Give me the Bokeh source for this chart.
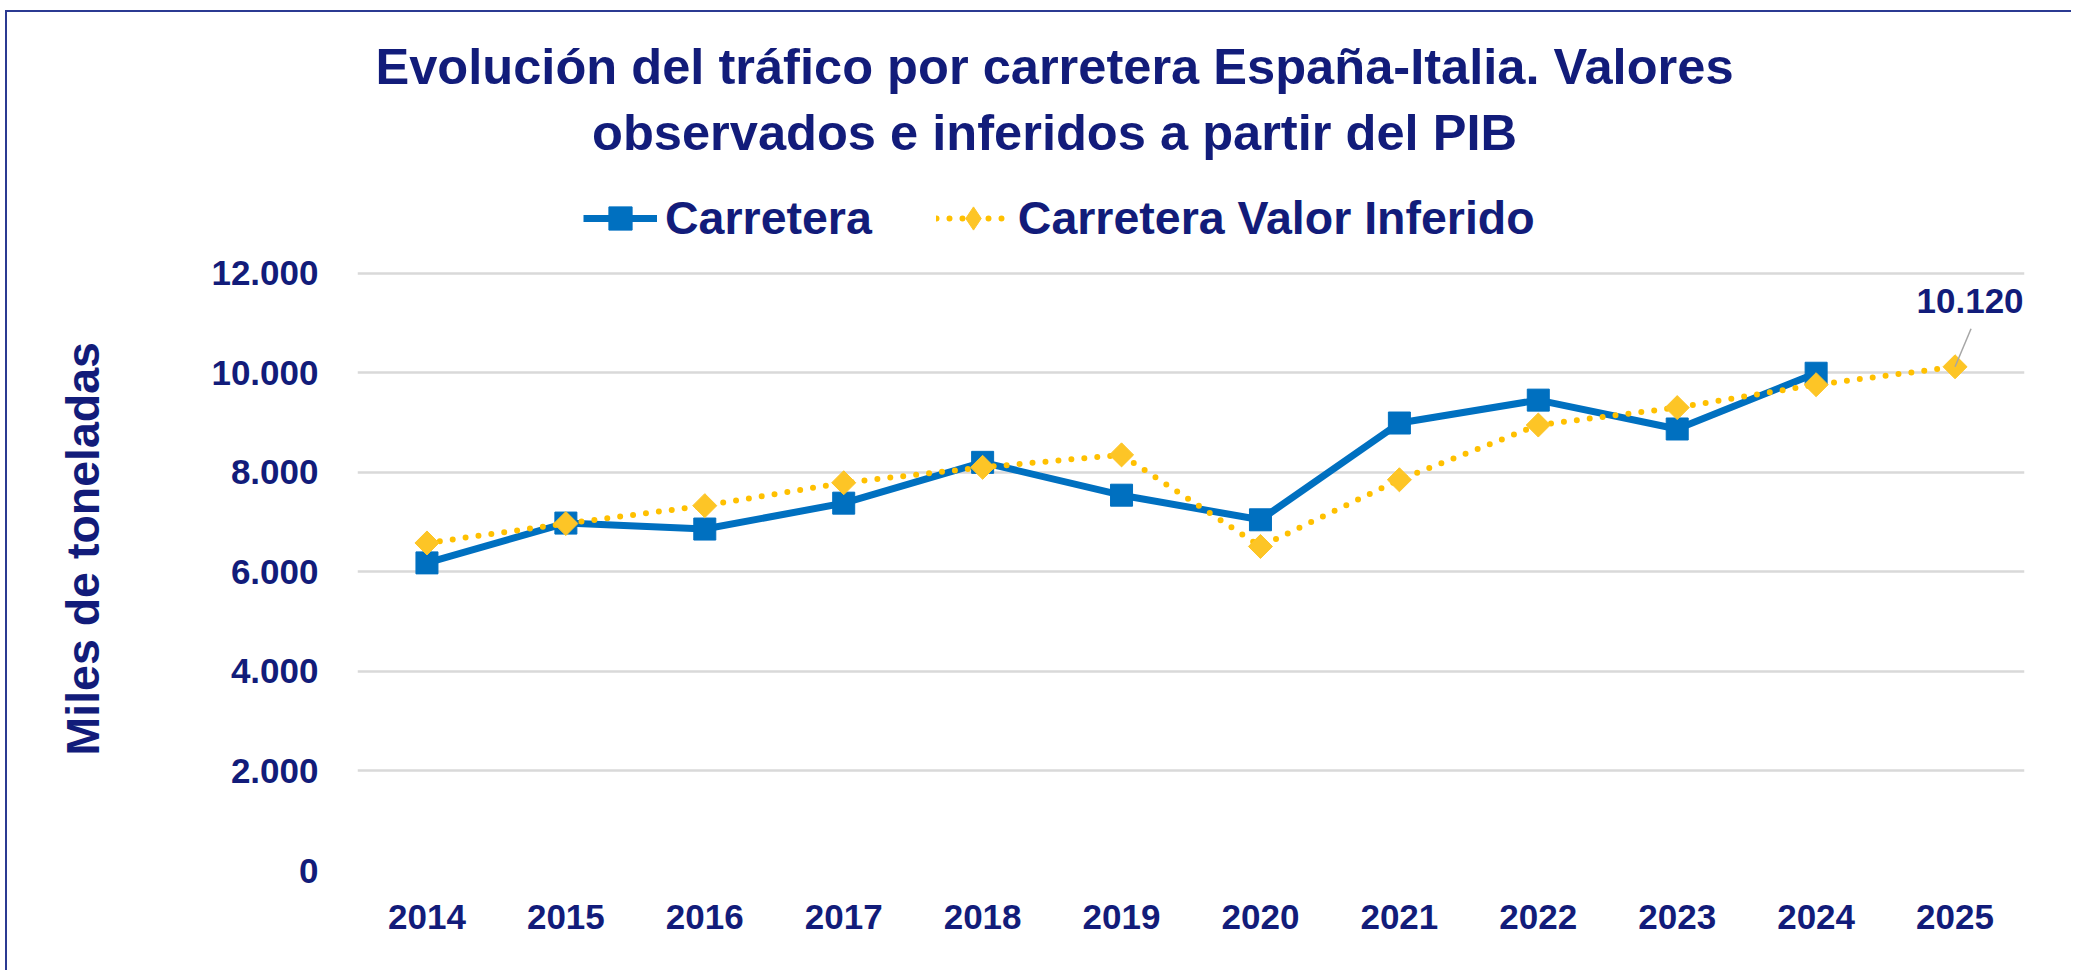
from bokeh.plotting import figure
from bokeh.models import (FactorRange, Range1d, FixedTicker, Label, Legend, LegendItem,
                          Segment, ColumnDataSource, Title)
from bokeh.embed import file_html
from bokeh.resources import INLINE
import math

# ---- data ----
years = ["2014", "2015", "2016", "2017", "2018", "2019", "2020", "2021", "2022", "2023", "2024", "2025"]
carretera_years = ["2014", "2015", "2016", "2017", "2018", "2019", "2020", "2021", "2022", "2023", "2024"]
carretera = [6180, 6980, 6860, 7380, 8200, 7540, 7046, 8990, 9450, 8870, 9990]
inferido = [6580, 6970, 7330, 7790, 8100, 8350, 6510, 7850, 8950, 9300, 9760, 10120]
y_ticks = [0, 2000, 4000, 6000, 8000, 10000, 12000]
title_lines = ["Evolución del tráfico por carretera España-Italia. Valores",
               "observados e inferidos a partir del PIB"]
y_title = "Miles de toneladas"
series_names = ["Carretera", "Carretera Valor Inferido"]

# ---- style / layout ----
NAVY = "#121C7A"
BLUE = "#0070C0"
YELLOW = "#FFC000"
DIAMOND = "#FDC526"
FONT = "Liberation Sans"

OX, OY = 7, 12                       # canvas origin on the page (after css margin + border)
W, H = 2066, 960
ML, MR, MT, MB = 350, 49, 0, 102
frame_w = W - ML - MR
frame_h = H - MT - MB
FL, FB = OX + ML, OY + MT + frame_h  # frame left / bottom on the page
ymax = y_ticks[-1]
px_y = 597.3 / ymax                  # px per unit (0 .. 12000 spans 597 px)
yend = frame_h / px_y
px_x = frame_w / len(years)


def gx(page_x):
    return (page_x - FL) / px_x


def gy(page_y):
    return (FB - page_y) / px_y


p = figure(width=W, height=H, x_range=FactorRange(factors=years, range_padding=0),
           y_range=Range1d(0, yend), output_backend="svg", toolbar_location=None,
           title_location=None,
           min_border_left=ML, min_border_right=MR, min_border_top=MT, min_border_bottom=MB)
p.styles = {"margin-left": "5px", "margin-top": "10px",
            "border-left": "2px solid #2B3A92", "border-top": "2px solid #2B3A92"}
p.outline_line_color = None
p.background_fill_color = "white"
p.border_fill_color = "white"

# axes
p.xaxis.axis_line_color = None
p.yaxis.axis_line_color = None
p.xaxis.major_tick_line_color = None
p.yaxis.major_tick_line_color = None
p.yaxis.minor_tick_line_color = None
p.xaxis.major_tick_out = 0
p.yaxis.major_tick_out = 0
p.xaxis.major_label_standoff = 34
p.yaxis.major_label_standoff = 39
for ax in (p.xaxis, p.yaxis):
    ax.major_label_text_font = FONT
    ax.major_label_text_font_style = "bold"
    ax.major_label_text_font_size = "35px"
    ax.major_label_text_color = NAVY
p.yaxis.ticker = FixedTicker(ticks=y_ticks)
p.yaxis.major_label_overrides = {t: f"{t:,}".replace(",", ".") for t in y_ticks}
# spacer between tick labels and the axis title
p.yaxis.axis_label = " "
p.yaxis.axis_label_text_font_size = "1px"
p.yaxis.axis_label_standoff = 96
p.xgrid.grid_line_color = None
p.ygrid.grid_line_color = "#D9D9D9"
p.ygrid.grid_line_width = 2.5

# series
l1 = p.line(carretera_years, carretera, line_color=BLUE, line_width=7, line_join="round")
s1 = p.scatter(carretera_years, carretera, marker="square", size=22, fill_color=BLUE, line_color=BLUE)
l2 = p.line(years, inferido, line_color=YELLOW, line_width=6, line_dash="0 13", line_cap="round")
# small diamonds (hidden under the rotated squares) give the legend its diamond symbol
s2_leg = p.scatter(years, inferido, marker="diamond", size=12, fill_color=DIAMOND, line_color=DIAMOND)
s2 = p.scatter(years, inferido, marker="square", angle=math.pi / 4, size=17,
               fill_color=DIAMOND, line_color=DIAMOND)

# data label for last inferred value with leader line
last_i = len(years) - 1
lead_dx, lead_dy = 16, 38
src = ColumnDataSource(dict(x0=[last_i + 0.5], y0=[inferido[-1]],
                            x1=[last_i + 0.5 + lead_dx / px_x], y1=[inferido[-1] + lead_dy / px_y]))
p.add_glyph(src, Segment(x0="x0", y0="y0", x1="x1", y1="y1", line_color="#A6A6A6", line_width=1.5))
p.add_layout(Label(x=last_i + 0.5, y=inferido[-1], x_offset=15, y_offset=66,
                   text=f"{inferido[-1]:,}".replace(",", "."), text_align="center",
                   text_baseline="alphabetic", text_font=FONT, text_font_style="bold",
                   text_font_size="35px", text_color=NAVY))

# two-line title
for line, base in zip(title_lines, [66, 132]):
    p.add_layout(Label(x=gx(1054), y=gy(base), text=line, text_align="center",
                       text_baseline="alphabetic", text_font=FONT, text_font_style="bold",
                       text_font_size="50.6px", text_color=NAVY))

# legend
leg_h = 58
legend = Legend(items=[LegendItem(label=series_names[0], renderers=[l1, s1]),
                       LegendItem(label=series_names[1], renderers=[l2, s2_leg])],
                orientation="horizontal",
                location=(583 - FL, FB - (218 + leg_h / 2)),
                glyph_width=74, glyph_height=leg_h, label_standoff=8, spacing=64,
                padding=0, margin=0, border_line_alpha=0, background_fill_alpha=0,
                label_text_font=FONT, label_text_font_style="bold",
                label_text_font_size="46.5px", label_text_color=NAVY,
                label_text_baseline="middle")
p.add_layout(legend, "center")

# y axis title (left panel); text starts 115 px above the frame bottom
p.add_layout(Title(text=y_title, align="left", offset=FB - 755, standoff=0,
                   text_font=FONT, text_font_style="bold", text_font_size="46.5px",
                   text_color=NAVY), "left")

open("out.html", "w").write(file_html(p, INLINE))
